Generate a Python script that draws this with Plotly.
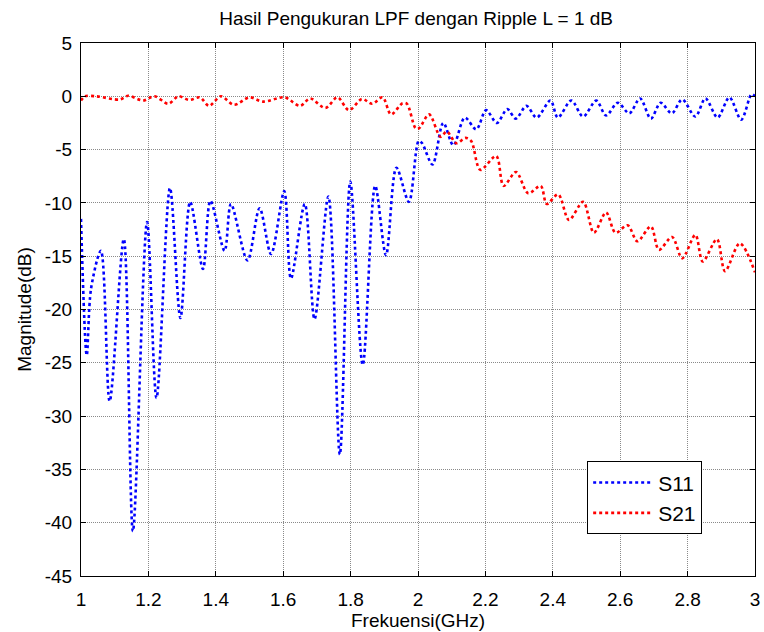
import plotly.graph_objects as go

# S11 (read extrema from the reference)
s11_freq = [1.000, 1.017, 1.030, 1.059, 1.085, 1.127, 1.154, 1.196, 1.224, 1.264,
            1.295, 1.324, 1.362, 1.384, 1.426, 1.445, 1.494, 1.530, 1.564, 1.603,
            1.623, 1.664, 1.693, 1.734, 1.768, 1.799, 1.836, 1.873, 1.905, 1.936,
            1.973, 2.002, 2.012, 2.043, 2.075, 2.105, 2.139, 2.173, 2.202, 2.234,
            2.265, 2.290, 2.322, 2.352, 2.393, 2.415, 2.455, 2.490, 2.529, 2.558,
            2.593, 2.627, 2.659, 2.691, 2.720, 2.753, 2.784, 2.823, 2.853, 2.889,
            2.924, 2.959, 2.990, 3.000]
s11_db = [-11.5, -24.3, -18.0, -14.5, -28.6, -13.4, -40.8, -11.8, -28.3, -8.6,
          -20.8, -9.9, -16.2, -9.8, -14.5, -10.1, -15.4, -10.5, -14.8, -8.9,
          -17.1, -10.1, -20.9, -9.4, -33.6, -8.0, -25.2, -8.4, -14.9, -6.7,
          -9.9, -4.2, -4.4, -6.4, -2.5, -4.6, -2.0, -3.1, -1.3, -2.5,
          -1.2, -2.1, -0.9, -2.0, -0.4, -2.0, -0.4, -1.9, -0.4, -1.8,
          -0.6, -1.6, -0.2, -2.1, -0.6, -1.6, -0.3, -1.9, -0.2, -2.0,
          -0.1, -2.2, 0.2, 0.0]

# S21
s21_freq = [1.000, 1.012, 1.045, 1.115, 1.140, 1.184, 1.218, 1.259, 1.289, 1.321,
            1.353, 1.380, 1.415, 1.454, 1.500, 1.540, 1.604, 1.650, 1.680, 1.725,
            1.761, 1.795, 1.834, 1.864, 1.895, 1.920, 1.954, 1.967, 1.993, 2.003,
            2.033, 2.067, 2.085, 2.114, 2.141, 2.158, 2.185, 2.232, 2.254, 2.291,
            2.327, 2.364, 2.382, 2.416, 2.448, 2.490, 2.522, 2.558, 2.586, 2.622,
            2.651, 2.691, 2.715, 2.754, 2.784, 2.823, 2.845, 2.887, 2.911, 2.955,
            3.000]
s21_db = [-0.4, 0.0, 0.0, -0.3, 0.05, -0.4, 0.0, -0.7, 0.0, -0.35,
          -0.1, -0.9, 0.0, -0.8, -0.1, -0.5, -0.1, -0.9, -0.2, -1.1,
          -0.1, -1.3, -0.25, -0.7, -0.1, -1.7, -0.65, -0.7, -3.0, -3.0,
          -1.7, -3.8, -3.3, -4.4, -3.9, -4.2, -6.9, -5.6, -8.4, -7.1,
          -9.1, -8.4, -10.1, -9.2, -11.6, -9.9, -12.8, -10.9, -12.8, -12.1,
          -13.6, -12.2, -14.4, -13.2, -15.2, -13.0, -15.5, -13.4, -16.4, -13.8,
          -16.5]

x_ticks = [1.0, 1.2, 1.4, 1.6, 1.8, 2.0, 2.2, 2.4, 2.6, 2.8, 3.0]
x_tick_labels = ["1", "1.2", "1.4", "1.6", "1.8", "2", "2.2", "2.4", "2.6", "2.8", "3"]
y_ticks = [5, 0, -5, -10, -15, -20, -25, -30, -35, -40, -45]
y_tick_labels = ["5", "0", "-5", "-10", "-15", "-20", "-25", "-30", "-35", "-40", "-45"]

FONT = "Liberation Sans, Arial, Helvetica, sans-serif"

fig = go.Figure()
fig.add_trace(go.Scatter(x=s11_freq, y=s11_db, mode="lines", name="S11",
                         line=dict(color="#0000FF", width=2.6, dash="3px,3px",
                                   shape="spline", smoothing=0.9)))
fig.add_trace(go.Scatter(x=s21_freq, y=s21_db, mode="lines", name="S21",
                         line=dict(color="#FF0000", width=2.6, dash="3px,3px",
                                   shape="spline", smoothing=0.9)))

axis_common = dict(
    showline=True, linecolor="black", linewidth=1, mirror="ticks",
    ticks="inside", ticklen=5, tickcolor="black",
    showgrid=True, gridcolor="#8a8a8a", gridwidth=1, griddash="1px,1px",
    zeroline=False, ticklabeloverflow="allow",
    tickfont=dict(family=FONT, size=19, color="black"),
)

fig.update_layout(
    width=764, height=632,
    margin=dict(l=81, r=4, t=43, b=56),
    paper_bgcolor="white", plot_bgcolor="white",
    font=dict(family=FONT, color="black"),
    title=dict(text="Hasil Pengukuran LPF dengan Ripple L = 1 dB",
               x=0.5447, xanchor="center", y=1 - 18 / 632, yanchor="middle",
               yref="container", font=dict(family=FONT, size=19, color="black")),
    xaxis=dict(range=[1, 3], tickvals=x_ticks, ticktext=x_tick_labels,
               ticklabelstandoff=6,
               title=dict(text="Frekuensi(GHz)", standoff=2,
                          font=dict(family=FONT, size=19, color="black")),
               **axis_common),
    yaxis=dict(range=[-45, 5], tickvals=y_ticks, ticktext=y_tick_labels,
               ticklabelstandoff=4,
               title=dict(text="Magnitude(dB)", standoff=8,
                          font=dict(family=FONT, size=19, color="black")),
               **axis_common),
    legend=dict(x=0.751, y=0.215, xanchor="left", yanchor="top",
                bgcolor="white", bordercolor="black", borderwidth=1,
                font=dict(family=FONT, size=21, color="black"),
                itemwidth=60, tracegroupgap=0,
                entrywidth=118, entrywidthmode="pixels"),
    showlegend=True,
)

fig.write_html("out.html", config={"displayModeBar": False},
               post_script="document.body.style.margin='0px';")
